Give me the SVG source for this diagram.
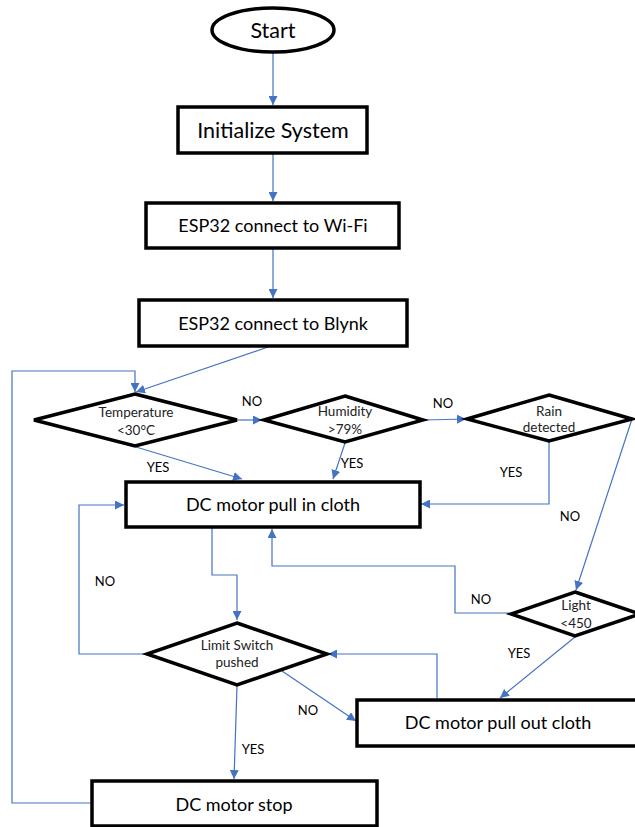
<svg xmlns="http://www.w3.org/2000/svg" width="635" height="827" viewBox="0 0 635 827">
<defs>
<style>
.n{fill:#fff;stroke:#000;stroke-width:3.5}
.c{fill:none;stroke:#4472C4;stroke-width:1.2}
.t{font-family:Lato,"Open Sans",sans-serif;fill:#000;text-anchor:middle}
.big{font-size:21.5px}
.mid{font-size:18px}
.sm{font-size:13.5px;fill:#222}
.lb{font-family:Lato,"Open Sans",sans-serif;font-size:13px;fill:#000;text-anchor:middle}
</style>
<marker id="a" viewBox="0 0 10 10" refX="10" refY="5" markerWidth="9" markerHeight="9" markerUnits="userSpaceOnUse" orient="auto">
<path d="M0,0 L10,5 L0,10 z" fill="#4472C4"/>
</marker>
</defs>
<rect width="635" height="827" fill="#fff"/>
<g id="connectors">
<path class="c" marker-end="url(#a)" d="M273,53 L273,105"/>
<path class="c" marker-end="url(#a)" d="M273,154 L273,201"/>
<path class="c" marker-end="url(#a)" d="M273,249 L273,298"/>
<path class="c" marker-end="url(#a)" d="M268,347 L136,392"/>
<path class="c" marker-end="url(#a)" d="M92,803 L12,803 L12,371 L135,371 L135,392"/>
<path class="c" marker-end="url(#a)" d="M238,420 L262,420"/>
<path class="c" marker-end="url(#a)" d="M424,420 L466,419"/>
<path class="c" marker-end="url(#a)" d="M136,447 L242,479"/>
<path class="c" marker-end="url(#a)" d="M345,443 L333,479"/>
<path class="c" marker-end="url(#a)" d="M549,442 L549,504 L421,504"/>
<path class="c" marker-end="url(#a)" d="M632,419 L576,590"/>
<path class="c" marker-end="url(#a)" d="M510,613 L455,613 L455,566 L272,566 L272,529"/>
<path class="c" marker-end="url(#a)" d="M575,637 L500,698"/>
<path class="c" marker-end="url(#a)" d="M212,528 L212,575 L237,575 L237,620"/>
<path class="c" marker-end="url(#a)" d="M146,654 L79,654 L79,505 L124,505"/>
<path class="c" marker-end="url(#a)" d="M282,671 L356,721"/>
<path class="c" marker-end="url(#a)" d="M437,698 L437,654 L328,654"/>
<path class="c" marker-end="url(#a)" d="M237,686 L234,779"/>
</g>
<g id="labels">
<text class="lb" x="252" y="406">NO</text>
<text class="lb" x="443" y="408">NO</text>
<text class="lb" x="158" y="472">YES</text>
<text class="lb" x="352" y="468">YES</text>
<text class="lb" x="511" y="477">YES</text>
<text class="lb" x="570" y="521">NO</text>
<text class="lb" x="481" y="604">NO</text>
<text class="lb" x="519" y="658">YES</text>
<text class="lb" x="105" y="586">NO</text>
<text class="lb" x="308" y="715">NO</text>
<text class="lb" x="253" y="754">YES</text>
</g>
<g id="start">
<ellipse class="n" cx="273" cy="30" rx="61" ry="22"/>
<text class="t big" x="273" y="38">Start</text>
</g>
<g id="init">
<rect class="n" x="178" y="107" width="189" height="46"/>
<text class="t big" x="273" y="138">Initialize System</text>
</g>
<g id="wifi">
<rect class="n" x="146" y="203" width="253" height="45"/>
<text class="t mid" x="273" y="232">ESP32 connect to Wi-Fi</text>
</g>
<g id="blynk">
<rect class="n" x="139" y="300" width="268" height="46"/>
<text class="t mid" x="273" y="330">ESP32 connect to Blynk</text>
</g>
<g id="temp">
<polygon class="n" points="135,394 237,420 135,446 34,420"/>
<text class="t sm" x="136" y="417">Temperature</text>
<text class="t sm" x="136" y="435">&lt;30°C</text>
</g>
<g id="humid">
<polygon class="n" points="345,396 423,420 345,442 264,420"/>
<text class="t sm" x="345" y="416">Humidity</text>
<text class="t sm" x="345" y="434">&gt;79%</text>
</g>
<g id="rain">
<polygon class="n" points="549,395 632,419 549,441 467,419"/>
<text class="t sm" x="549" y="416">Rain</text>
<text class="t sm" x="549" y="432">detected</text>
</g>
<g id="pullin">
<rect class="n" x="126" y="482" width="294" height="45"/>
<text class="t mid" x="273" y="511">DC motor pull in cloth</text>
</g>
<g id="light">
<polygon class="n" points="575,592 640,614 575,636 511,614"/>
<text class="t sm" x="576" y="610">Light</text>
<text class="t sm" x="576" y="628">&lt;450</text>
</g>
<g id="limit">
<polygon class="n" points="237,623 327,654 237,685 147,654"/>
<text class="t sm" x="237" y="650">Limit Switch</text>
<text class="t sm" x="237" y="667">pushed</text>
</g>
<g id="pullout">
<rect class="n" x="357" y="700" width="284" height="46"/>
<text class="t mid" x="498" y="729">DC motor pull out cloth</text>
</g>
<g id="stop">
<rect class="n" x="92" y="781" width="285" height="45"/>
<text class="t mid" x="234" y="811">DC motor stop</text>
</g>
</svg>
